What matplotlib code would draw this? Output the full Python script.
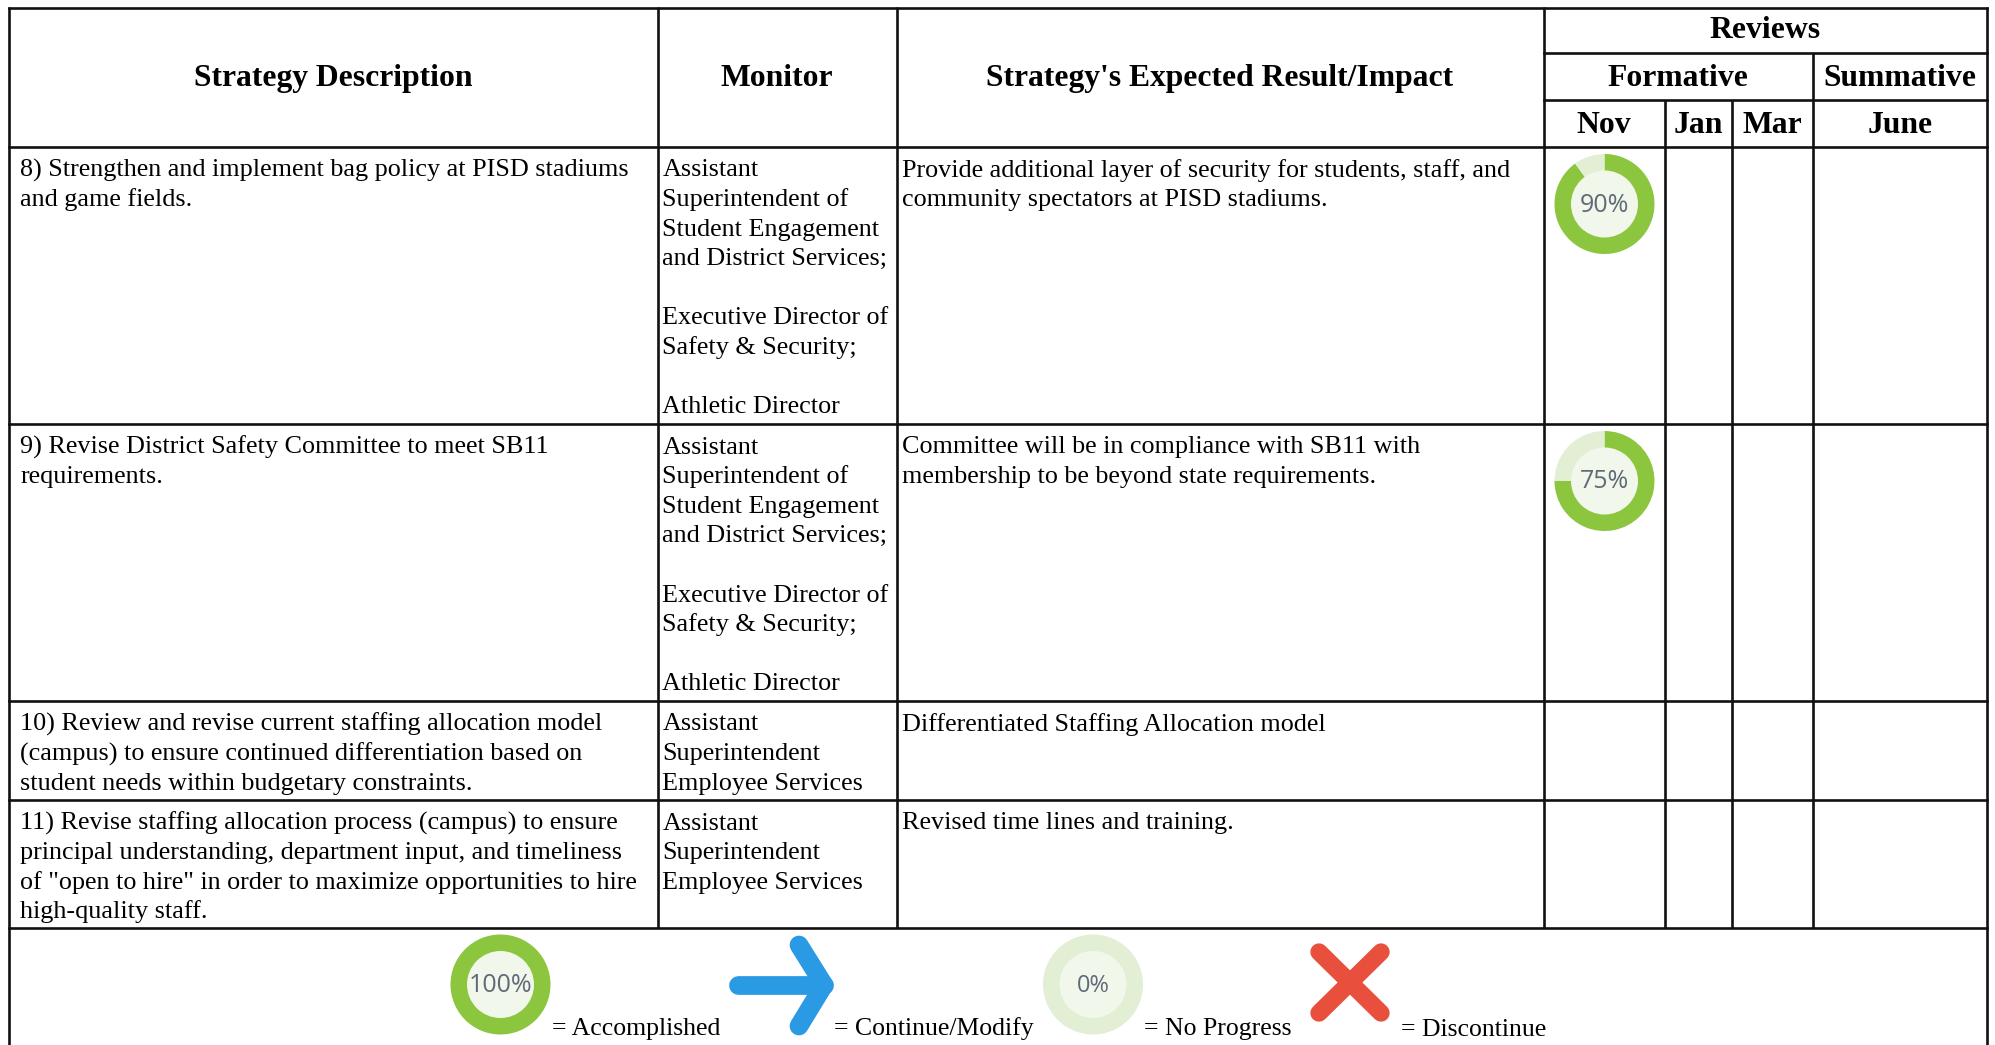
import matplotlib
matplotlib.use("Agg")
import matplotlib.pyplot as plt
from matplotlib.patches import Circle

# ---------- content ----------
col_headers = ["Strategy Description", "Monitor", "Strategy's Expected Result/Impact"]
group_top = "Reviews"
group_mid = ["Formative", "Summative"]
months = ["Nov", "Jan", "Mar", "June"]

strategies = [
    ["8) Strengthen and implement bag policy at PISD stadiums", "and game fields."],
    ["9) Revise District Safety Committee to meet SB11", "requirements."],
    ["10) Review and revise current staffing allocation model",
     "(campus) to ensure continued differentiation based on",
     "student needs within budgetary constraints."],
    ["11) Revise staffing allocation process (campus) to ensure",
     "principal understanding, department input, and timeliness",
     "of \"open to hire\" in order to maximize opportunities to hire",
     "high-quality staff."],
]
long_monitor = ["Assistant", "Superintendent of", "Student Engagement",
                "and District Services;", "", "Executive Director of",
                "Safety & Security;", "", "Athletic Director"]
short_monitor = ["Assistant", "Superintendent", "Employee Services"]
monitors = [long_monitor, long_monitor, short_monitor, short_monitor]
impacts = [
    ["Provide additional layer of security for students, staff, and",
     "community spectators at PISD stadiums."],
    ["Committee will be in compliance with SB11 with",
     "membership to be beyond state requirements."],
    ["Differentiated Staffing Allocation model"],
    ["Revised time lines and training."],
]
nov_progress = [90, 75]
legend_progress = [100, 0]
legend_labels = ["= Accomplished", "= Continue/Modify", "= No Progress", "= Discontinue"]

# ---------- layout (pixels) ----------
W, H = 1995, 1045
SERIF = "Liberation Serif"
BODY = 18.85
LEGEND = 18.55
HEAD = 22.8
LINE = 29.6
GREEN, LIGHT, INNER = "#8cc63f", "#e2efd4", "#f1f7ea"
BLUE, RED = "#2b9ae4", "#e94f3d"
INK = "#000000"

fig = plt.figure(figsize=(W / 100, H / 100), dpi=100)
ax = fig.add_axes([0, 0, 1, 1])
ax.set_xlim(0, W)
ax.set_ylim(H, 0)
ax.axis("off")

LW = 1.9
def hline(y, x0, x1, lw=LW):
    ax.plot([x0, x1], [y, y], color="#111111", lw=lw, solid_capstyle="projecting", zorder=3)
def vline(x, y0, y1, lw=LW):
    ax.plot([x, x], [y0, y1], color="#111111", lw=lw, solid_capstyle="butt", zorder=3)

L, R = 9, 1987
c_mon, c_imp, c_nov, c_jan, c_mar, c_jun = 657.5, 896.5, 1544, 1665, 1732, 1813
rows = [147, 424, 701, 800, 928]

hline(7.5, L, R)
for y in rows:
    hline(y, L, R)
hline(53, c_nov, R)
hline(100, c_nov, R)
vline(L, 7, H)
vline(R, 7, H)
for x in (c_mon, c_imp, c_nov):
    vline(x, 7, rows[-1])
for x in (c_jan, c_mar):
    vline(x, 100, rows[-1])
vline(c_jun, 53, rows[-1])

def head(x, y, s):
    ax.text(x, y, s, family=SERIF, weight="bold", fontsize=HEAD, ha="center", va="baseline", color=INK)

for x, s in zip([333, 776.5, 1220], col_headers):
    head(x, 86, s)
head(1765, 37.5, group_top)
head(1678, 85.5, group_mid[0])
head(1900, 85.5, group_mid[1])
for x, s in zip([1604, 1698, 1772, 1900], months):
    head(x, 133, s)

def block(x, y, lines):
    for i, s in enumerate(lines):
        if s:
            ax.text(x, y + i * LINE, s, family=SERIF, fontsize=BODY, ha="left", va="baseline", color=INK)

for top, a, b, c in zip(rows, strategies, monitors, impacts):
    y = top + 29.5
    block(20.5, y, a)
    block(662.5, y, b)
    block(902, y, c)

def donut(cx, cy, pct, fs):
    ax.pie([pct, 100 - pct], colors=[GREEN, LIGHT], center=(cx, cy), radius=50,
           startangle=-90, counterclock=True, frame=True,
           wedgeprops=dict(width=50, linewidth=0))
    ax.add_patch(Circle((cx, cy), 33.5, facecolor=INNER, edgecolor="none", zorder=2))
    ax.text(cx, cy + 1, f"{pct}%", family="Open Sans", fontsize=fs, color="#5f6b78",
            ha="center", va="center", zorder=4)

donut(1604.5, 204, nov_progress[0], 18)
donut(1604.5, 481, nov_progress[1], 18)
donut(500.5, 984.5, legend_progress[0], 18)
donut(1093, 984.5, legend_progress[1], 17)

# arrow
ax.plot([738, 824], [985, 985], color=BLUE, lw=13.5, solid_capstyle="round", zorder=2)
ax.plot([799, 824, 799], [945, 985, 1026], color=BLUE, lw=13.5,
        solid_capstyle="round", solid_joinstyle="round", zorder=2)
# cross
ax.plot([1319, 1381], [952, 1013], color=RED, lw=12.5, solid_capstyle="round", zorder=2)
ax.plot([1319, 1381], [1013, 952], color=RED, lw=12.5, solid_capstyle="round", zorder=2)

for x, s in zip([552, 834.5, 1144, 1401], legend_labels):
    ax.text(x, 1035.5, s, family=SERIF, fontsize=LEGEND, ha="left", va="baseline", color=INK)

ax.set_xlim(0, W)
ax.set_ylim(H, 0)
ax.set_aspect("auto")
ax.axis("off")
fig.savefig("out.png", dpi=100, facecolor="white")
